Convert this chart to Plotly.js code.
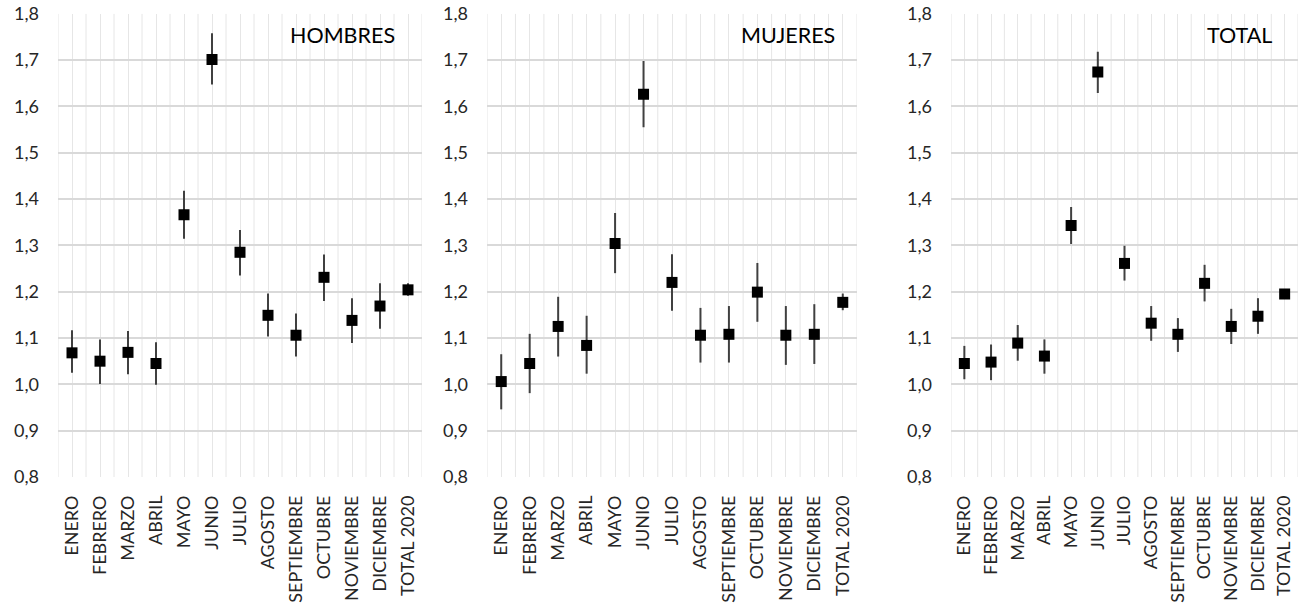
<!DOCTYPE html>
<html>
<head>
<meta charset="utf-8">
<script src="https://cdn.plot.ly/plotly-3.0.1.min.js"></script>
<style>html,body{margin:0;padding:0;background:#fff;}#chart{width:1305px;height:606px;}</style>
</head>
<body>
<div id="chart"></div>
<script>
const categories = ["ENERO","FEBRERO","MARZO","ABRIL","MAYO","JUNIO","JULIO","AGOSTO","SEPTIEMBRE","OCTUBRE","NOVIEMBRE","DICIEMBRE","TOTAL 2020"];

const hombres   = [1.068,1.050,1.069,1.045,1.366,1.701,1.285,1.149,1.106,1.231,1.138,1.169,1.204];
const hombresHi = [1.117,1.097,1.115,1.091,1.418,1.758,1.333,1.196,1.153,1.280,1.186,1.218,1.218];
const hombresLo = [1.025,1.001,1.022,0.999,1.314,1.647,1.235,1.103,1.060,1.180,1.089,1.120,1.191];

const mujeres   = [1.006,1.045,1.125,1.084,1.304,1.626,1.220,1.106,1.108,1.199,1.106,1.108,1.177];
const mujeresHi = [1.065,1.109,1.189,1.148,1.370,1.698,1.281,1.165,1.169,1.262,1.169,1.173,1.196];
const mujeresLo = [0.946,0.981,1.060,1.023,1.240,1.555,1.159,1.047,1.047,1.135,1.042,1.044,1.160];

const total   = [1.045,1.048,1.089,1.061,1.343,1.674,1.261,1.132,1.108,1.218,1.125,1.147,1.195];
const totalHi = [1.083,1.086,1.128,1.097,1.383,1.718,1.299,1.169,1.143,1.258,1.163,1.186,1.203];
const totalLo = [1.011,1.009,1.051,1.023,1.303,1.629,1.224,1.094,1.070,1.179,1.087,1.109,1.187];

const panelTitles = ["HOMBRES","MUJERES","TOTAL"];

const FONT = "Lato, 'Liberation Sans', sans-serif";
const W = 1305, H = 606;

function mkTrace(vals, hi, lo, xa, ya) {
  return {
    type: "scatter", mode: "markers",
    x: categories, y: vals, xaxis: xa, yaxis: ya,
    marker: {symbol: "square", size: 11, color: "#000"},
    error_y: {type: "data", symmetric: false,
      array: hi.map((h, i) => h - vals[i]),
      arrayminus: lo.map((l, i) => vals[i] - l),
      color: "#404040", thickness: 2, width: 0},
    showlegend: false, hoverinfo: "x+y"
  };
}

const traces = [
  mkTrace(hombres, hombresHi, hombresLo, "x", "y"),
  mkTrace(mujeres, mujeresHi, mujeresLo, "x2", "y2"),
  mkTrace(total, totalHi, totalLo, "x3", "y3")
];

// pixel geometry of the three plot areas
const px = [[58, 422], [487, 857], [951, 1298]];
const yTop = 13.7, yBot = 477;
const yDom = [1 - yBot / H, 1 - yTop / H];

function xAxis(i) {
  return {
    domain: [px[i][0] / W, px[i][1] / W],
    anchor: i === 0 ? "y" : "y" + (i + 1),
    type: "category", categoryorder: "array", categoryarray: categories,
    range: [-0.5, categories.length - 0.5],
    showgrid: true, gridcolor: "#e6e6e6", gridwidth: 1,
    zeroline: false, showline: false, ticks: "",
    tickangle: -90, ticklabelstandoff: 14,
    tickfont: {family: FONT, size: 18, color: "#262626"},
    fixedrange: true
  };
}
function yAxis(i) {
  return {
    domain: yDom,
    anchor: i === 0 ? "x" : "x" + (i + 1),
    range: [0.8, 1.8], dtick: 0.1, tick0: 0.8, tickformat: ".1f",
    showgrid: true, gridcolor: "#d9d9d9", gridwidth: 2,
    zeroline: false, showline: false, ticks: "",
    ticklabelstandoff: 18,
    tickfont: {family: FONT, size: 18, color: "#262626"},
    fixedrange: true
  };
}

const shapes = [];
["x", "x2", "x3"].forEach((xa, k) => {
  const ya = k === 0 ? "y" : "y" + (k + 1);
  for (let i = 0; i <= categories.length; i++) {
    shapes.push({type: "line", layer: "below", xref: xa, yref: ya,
      x0: i - 0.5, x1: i - 0.5, y0: 0.8, y1: 1.8,
      line: {color: "#e6e6e6", width: 1}});
  }
});

const titleRight = [397, 837, 1274];
const annotations = panelTitles.map((t, i) => ({
  text: t, xref: "paper", yref: "paper",
  x: titleRight[i] / W, y: 1 - 35 / H,
  xanchor: "right", yanchor: "middle", showarrow: false,
  font: {family: FONT, size: 21.5, color: "#000"}
}));

const layout = {
  width: W, height: H,
  margin: {l: 0, r: 0, t: 0, b: 0},
  paper_bgcolor: "#fff", plot_bgcolor: "rgba(0,0,0,0)",
  separators: ",.",
  showlegend: false,
  xaxis: xAxis(0), yaxis: yAxis(0),
  xaxis2: xAxis(1), yaxis2: yAxis(1),
  xaxis3: xAxis(2), yaxis3: yAxis(2),
  shapes: shapes,
  annotations: annotations
};

Plotly.newPlot("chart", traces, layout, {displayModeBar: false, staticPlot: true});
</script>
</body>
</html>
